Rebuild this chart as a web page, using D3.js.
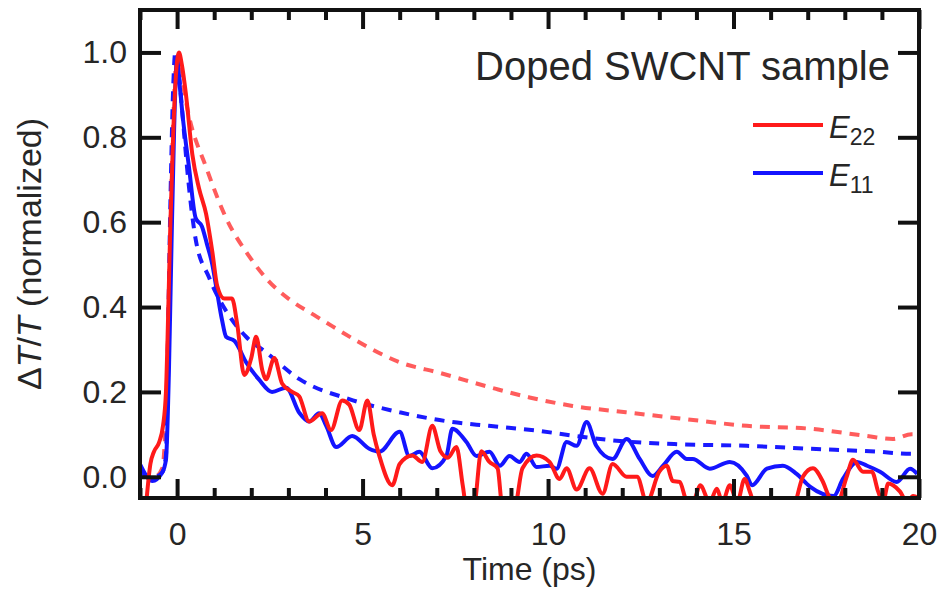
<!DOCTYPE html>
<html>
<head>
<meta charset="utf-8">
<script src="https://cdn.jsdelivr.net/npm/d3@7"></script>
<style>
    body { margin: 0; background: #fff; }
    text { font-family: "Liberation Sans", Arial, sans-serif; fill: #262626; }
</style>
</head>
<body>
<div id="wrapper"></div>
<script>
const xTicks = [0, 5, 10, 15, 20];
const yTicks = [0.0, 0.2, 0.4, 0.6, 0.8, 1.0];
const title = "Doped SWCNT sample";

// E22 measured trace
const e22Time = [-0.84, -0.72, -0.62, -0.49, -0.38, -0.3, -0.25, -0.18, -0.1, -0.02, 0.05, 0.13, 0.24, 0.41, 0.59, 0.78, 0.95, 1.08, 1.27, 1.48,
    1.62, 1.81, 2.0, 2.13, 2.3, 2.4, 2.62, 2.83, 3.1, 3.29, 3.56, 3.91, 4.15, 4.45, 4.64, 4.91, 5.13, 5.3, 5.45, 5.8,
    6.0, 6.34, 6.61, 6.88, 7.1, 7.3, 7.53, 7.7, 7.8, 8.0, 8.2, 8.42, 8.64, 8.77, 9.1, 9.31, 9.69, 10.04, 10.31, 10.5,
    10.77, 11.12, 11.47, 11.74, 12.12, 12.4, 12.66, 13.0, 13.2, 13.36, 13.55, 13.74, 13.95, 14.1, 14.36, 14.55, 14.7, 14.9, 15.1, 15.3,
    15.44, 15.6, 16.6, 16.87, 17.14, 17.4, 17.6, 17.8, 18.05, 18.22, 18.49, 18.73, 18.9, 19.03, 19.17, 19.3, 19.49, 19.68, 19.84, 20.0];
const e22Signal = [-0.07, 0.03, 0.06, 0.08, 0.12, 0.2, 0.35, 0.6, 0.82, 0.96, 1.0, 0.97, 0.9, 0.76, 0.68, 0.62, 0.53, 0.45, 0.42, 0.42,
    0.36, 0.24, 0.28, 0.33, 0.25, 0.23, 0.28, 0.22, 0.2, 0.19, 0.13, 0.15, 0.11, 0.18, 0.17, 0.11, 0.18, 0.1, 0.05, -0.02,
    0.03, 0.05, 0.035, 0.12, 0.06, 0.045, 0.07, -0.02, -0.07, -0.07, 0.06, 0.035, 0.02, -0.07, -0.07, 0.02, 0.05, 0.035, -0.005, 0.02,
    -0.03, 0.02, -0.04, 0.03, 0.0, 0.0, -0.06, 0.012, 0.026, -0.01, -0.012, -0.055, -0.05, -0.02, -0.06, -0.028, -0.06, -0.02, -0.06, -0.005,
    -0.035, -0.07, -0.07, 0.0, 0.02, -0.01, -0.05, -0.06, 0.0, 0.04, 0.012, 0.012, -0.035, -0.06, -0.016, -0.02, -0.035, -0.06, -0.045, -0.05];

// E11 measured trace
const e11Time = [-1.0, -0.67, -0.4, -0.3, -0.22, -0.15, -0.08, 0.0, 0.05, 0.15, 0.32, 0.5, 0.67, 0.8, 0.95, 1.05, 1.21, 1.32, 1.55, 1.86,
    2.2, 2.56, 2.94, 3.3, 3.56, 3.83, 4.02, 4.29, 4.72, 5.18, 5.45, 6.0, 6.26, 6.53, 6.88, 7.26, 7.42, 7.8, 8.07, 8.42,
    8.7, 8.96, 9.23, 9.42, 9.69, 10.04, 10.23, 10.5, 10.77, 11.04, 11.3, 11.74, 12.12, 12.47, 12.82, 13.1, 13.47, 13.74, 13.9, 14.36,
    14.9, 15.36, 15.5, 15.9, 16.33, 16.7, 17.06, 17.7, 17.95, 18.33, 18.6, 18.95, 19.4, 19.76, 19.95];
const e11Signal = [0.03, -0.01, 0.01, 0.04, 0.25, 0.55, 0.82, 0.99, 0.94, 0.85, 0.73, 0.61, 0.59, 0.55, 0.5, 0.45, 0.37, 0.33, 0.32, 0.27,
    0.23, 0.2, 0.21, 0.15, 0.13, 0.15, 0.12, 0.07, 0.096, 0.066, 0.059, 0.106, 0.049, 0.059, 0.02, 0.049, 0.113, 0.082, 0.049, 0.059,
    0.026, 0.049, 0.035, 0.054, 0.023, 0.026, 0.019, 0.082, 0.073, 0.129, 0.073, 0.042, 0.089, 0.042, 0.002, 0.026, 0.059, 0.042, 0.042, 0.019,
    0.035, 0.002, -0.02, 0.019, 0.026, 0.007, -0.023, -0.045, -0.005, 0.035, 0.026, 0.012, -0.012, 0.019, 0.007];

// dashed traces
const e22FitTime = [-1.0, -0.6, -0.4, -0.3, -0.2, -0.1, 0.0, 0.1, 0.32, 0.78, 1.32, 1.94, 2.48, 3.0, 3.75, 4.18, 4.91, 6.0, 7.07, 8.6,
    9.5, 10.66, 12.1, 13.7, 15.36, 17.1, 18.6, 19.3, 19.8, 20.0];
const e22FitSignal = [0.0, 0.0, 0.02, 0.15, 0.5, 0.85, 0.99, 0.95, 0.85, 0.73, 0.61, 0.52, 0.46, 0.42, 0.378, 0.355, 0.317, 0.27, 0.245, 0.207,
    0.187, 0.167, 0.152, 0.136, 0.12, 0.113, 0.096, 0.089, 0.1, 0.1];
const e11FitTime = [-1.0, -0.6, -0.4, -0.3, -0.25, -0.18, -0.1, -0.05, 0.05, 0.13, 0.3, 0.5, 0.86, 1.48, 1.86, 2.4, 3.3, 4.64, 6.0, 7.26,
    8.4, 9.77, 10.66, 11.85, 13.4, 15.36, 17.1, 18.9, 19.8, 20.0];
const e11FitSignal = [0.01, 0.0, 0.01, 0.05, 0.3, 0.65, 0.93, 1.0, 0.95, 0.87, 0.7, 0.56, 0.47, 0.37, 0.33, 0.293, 0.23, 0.183, 0.152, 0.131,
    0.12, 0.108, 0.097, 0.085, 0.077, 0.073, 0.066, 0.059, 0.054, 0.054];

function buildPlot() {
    const dimension = {
        width: 942,
        height: 590,
        margin: { top: 10, left: 140, bottom: 92, right: 23 }
    };
    dimension.boundedWidth = dimension.width - dimension.margin.left - dimension.margin.right;
    dimension.boundedHeight = dimension.height - dimension.margin.top - dimension.margin.bottom;

    const svg = d3.select("#wrapper").append("svg")
        .attr("width", dimension.width)
        .attr("height", dimension.height);

    const bounded = svg.append("g")
        .attr("transform", `translate(${dimension.margin.left},${dimension.margin.top})`);

    const xScaler = d3.scaleLinear()
        .domain([-1, 20])
        .range([0, dimension.boundedWidth]);
    const yScaler = d3.scaleLinear()
        .domain([-0.05, 1.1])
        .range([dimension.boundedHeight, 0]);

    bounded.append("clipPath").attr("id", "plotArea")
        .append("rect")
        .attr("width", dimension.boundedWidth)
        .attr("height", dimension.boundedHeight);

    const lineGenerator = d3.line()
        .x(d => xScaler(d[0]))
        .y(d => yScaler(d[1]))
        .curve(d3.curveMonotoneX);

    const series = [
        { t: e22FitTime, v: e22FitSignal, color: "#ff4040", dash: "10,8", opacity: 0.85 },
        { t: e11FitTime, v: e11FitSignal, color: "#1a1aff", dash: "10,8", opacity: 1 },
        { t: e11Time, v: e11Signal, color: "#1414ff", dash: null, opacity: 1 },
        { t: e22Time, v: e22Signal, color: "#ff1a1a", dash: null, opacity: 1 }
    ];

    const lines = bounded.append("g").attr("clip-path", "url(#plotArea)");
    series.forEach(s => {
        lines.append("path")
            .attr("d", lineGenerator(d3.zip(s.t, s.v)))
            .attr("fill", "none")
            .attr("stroke", s.color)
            .attr("stroke-width", 4)
            .attr("stroke-dasharray", s.dash)
            .attr("stroke-opacity", s.opacity)
            .attr("stroke-linejoin", "round");
    });

    // axes, ticks pointing inward
    const minorX = d3.range(-1, 21).filter(d => d % 5 !== 0);
    const styleAxis = g => {
        g.select(".domain").remove();
        g.selectAll(".tick line").attr("stroke", "#111").attr("stroke-width", 4);
        g.selectAll(".tick text").style("font-size", "32px").attr("fill", "#262626");
    };

    bounded.append("g")
        .attr("transform", `translate(0,${dimension.boundedHeight})`)
        .call(d3.axisBottom(xScaler).tickValues(xTicks).tickSize(-19).tickPadding(24).tickFormat(d3.format("d")))
        .call(styleAxis);
    bounded.append("g")
        .attr("transform", `translate(0,${dimension.boundedHeight})`)
        .call(d3.axisBottom(xScaler).tickValues(minorX).tickSize(-10).tickFormat(""))
        .call(styleAxis);
    bounded.append("g")
        .call(d3.axisTop(xScaler).tickValues(xTicks).tickSize(-19).tickFormat(""))
        .call(styleAxis);
    bounded.append("g")
        .call(d3.axisTop(xScaler).tickValues(minorX).tickSize(-10).tickFormat(""))
        .call(styleAxis);
    bounded.append("g")
        .call(d3.axisLeft(yScaler).tickValues(yTicks).tickSize(-21).tickPadding(13).tickFormat(d3.format(".1f")))
        .call(styleAxis);
    bounded.append("g")
        .attr("transform", `translate(${dimension.boundedWidth},0)`)
        .call(d3.axisRight(yScaler).tickValues(yTicks).tickSize(-21).tickFormat(""))
        .call(styleAxis);

    bounded.append("rect")
        .attr("width", dimension.boundedWidth)
        .attr("height", dimension.boundedHeight)
        .attr("fill", "none")
        .attr("stroke", "#111")
        .attr("stroke-width", 4);

    // axis titles
    svg.append("text")
        .attr("x", dimension.margin.left + dimension.boundedWidth / 2)
        .attr("y", 580)
        .attr("text-anchor", "middle")
        .style("font-size", "32px")
        .text("Time (ps)");

    const yLabel = svg.append("text")
        .attr("transform", `translate(41,${dimension.margin.top + dimension.boundedHeight / 2}) rotate(-90)`)
        .attr("text-anchor", "middle")
        .style("font-size", "34px");
    yLabel.append("tspan").text("\u0394");
    yLabel.append("tspan").style("font-style", "italic").text("T");
    yLabel.append("tspan").text("/");
    yLabel.append("tspan").style("font-style", "italic").text("T");
    yLabel.append("tspan").text(" (normalized)");

    svg.append("text")
        .attr("x", 890)
        .attr("y", 80)
        .attr("text-anchor", "end")
        .style("font-size", "40px")
        .text(title);

    // legend
    const legendItems = [
        { name: "E", sub: "22", color: "#ff1a1a", y: 125 },
        { name: "E", sub: "11", color: "#1414ff", y: 173 }
    ];
    legendItems.forEach(item => {
        svg.append("line")
            .attr("x1", 753).attr("x2", 823)
            .attr("y1", item.y).attr("y2", item.y)
            .attr("stroke", item.color)
            .attr("stroke-width", 4);
        const label = svg.append("text")
            .attr("x", 829)
            .attr("y", item.y + 13)
            .style("font-size", "31px");
        label.append("tspan").style("font-style", "italic").text(item.name);
        label.append("tspan").attr("dy", 7).style("font-size", "23px").text(item.sub);
    });
}

buildPlot();
</script>
</body>
</html>
